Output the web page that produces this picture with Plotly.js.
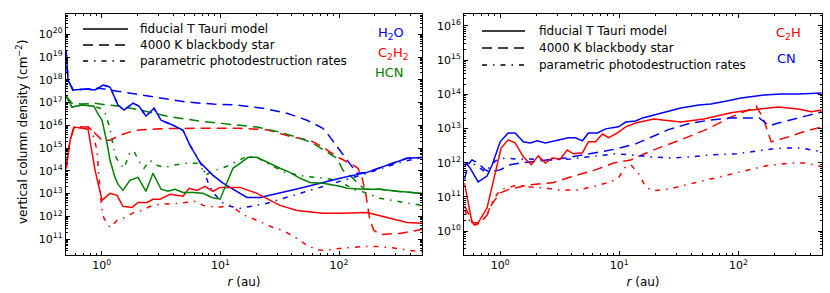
<!DOCTYPE html>
<html>
<head>
<meta charset="utf-8">
<script src="https://cdn.plot.ly/plotly-3.0.1.min.js"></script>
<style>html,body{margin:0;padding:0;background:#fff;}#chart{width:830px;height:293px;}</style>
</head>
<body>
<div id="chart"></div>
<script>
// ---- data: log10(r / au) and log10(N / cm^-2) ----
// Left panel: H2O
const h2o_fid_logR = [-0.30,-0.284,-0.242,-0.124,-0.056,0.011,0.070,0.137,0.188,0.264,0.314,0.373,0.441,0.500,0.601,0.685,0.744,0.828,0.938,1.013,1.081,1.224,1.334,1.671,2.008,2.235,2.572,2.70];
const h2o_fid_logN = [19.31,17.99,17.55,17.59,17.55,17.77,17.68,16.89,16.67,16.97,16.84,16.40,16.75,16.22,16.00,15.78,15.12,14.37,13.80,13.49,13.27,12.83,12.83,13.23,13.67,13.93,14.55,14.59];
const h2o_bb_logR = [-0.30,-0.284,-0.242,-0.124,-0.014,0.129,0.297,0.491,0.719,0.938,1.140,1.360,1.561,1.730,1.864,1.924,2.008,2.067,2.109,2.151,2.235,2.572,2.70];
const h2o_bb_logN = [19.31,17.99,17.55,17.59,17.63,17.50,17.37,17.19,17.02,16.93,16.89,16.75,16.53,16.22,15.87,15.48,14.90,14.46,14.15,13.89,13.93,14.55,14.59];
const h2o_par_logR = [-0.30,-0.284,-0.242,-0.124,-0.056,0.011,0.070,0.137,0.188,0.264,0.314,0.373,0.441,0.500,0.601,0.685,0.744,0.828,0.853,0.896,0.938,1.013,1.081,1.165,1.393,1.671,1.949,2.235,2.513,2.70];
const h2o_par_logN = [19.31,17.99,17.55,17.59,17.55,17.77,17.68,16.89,16.67,16.97,16.84,16.40,16.75,16.22,16.00,15.78,15.12,14.37,14.15,13.49,13.05,12.61,12.44,12.35,12.57,13.01,13.45,13.89,14.37,14.59];
// Left panel: C2H2
const c2h2_fid_logR = [-0.30,-0.267,-0.233,-0.115,-0.056,0.003,0.070,0.129,0.179,0.255,0.306,0.382,0.432,0.491,0.575,0.685,0.736,0.803,0.870,0.938,0.997,1.081,1.165,1.308,1.502,1.646,1.864,2.008,2.235,2.404,2.572,2.70];
const c2h2_fid_logN = [14.11,15.34,15.92,15.83,14.02,12.70,13.01,12.92,12.44,12.39,12.61,12.61,12.75,12.75,12.97,12.88,13.23,13.14,13.32,13.10,13.27,13.27,13.27,13.01,12.48,12.26,12.13,12.13,12.17,11.95,11.73,11.69];
const c2h2_bb_logR = [-0.30,-0.267,-0.233,-0.115,-0.056,0.003,0.070,0.154,0.281,0.491,0.828,1.165,1.393,1.612,1.755,1.864,1.924,2.008,2.092,2.160,2.193,2.227,2.260,2.294,2.345,2.513,2.70];
const c2h2_bb_logN = [14.11,15.34,15.92,15.92,15.65,15.34,15.34,15.56,15.78,15.85,15.87,15.87,15.80,15.48,15.34,15.04,14.82,14.55,14.33,14.11,13.71,12.92,11.82,11.38,11.20,11.25,11.42];
const c2h2_par_logR = [-0.30,-0.267,-0.233,-0.115,-0.082,-0.040,-0.014,0.003,0.019,0.070,0.129,0.196,0.272,0.340,0.407,0.491,0.634,0.744,0.803,0.853,0.971,1.081,1.207,1.308,1.444,1.527,1.646,1.730,1.814,1.864,2.008,2.202,2.345,2.488,2.597,2.70];
const c2h2_par_logN = [14.11,15.34,15.92,15.92,15.78,14.90,13.14,12.26,11.91,11.51,11.82,11.95,12.17,12.26,12.44,12.53,12.57,12.61,12.66,12.48,12.39,12.48,12.04,11.82,11.51,11.38,11.03,10.72,10.54,10.50,10.59,10.67,10.67,10.59,10.50,10.45];
// Left panel: HCN
const hcn_fid_logR = [-0.30,-0.250,-0.166,-0.065,-0.040,0.003,0.045,0.070,0.112,0.137,0.179,0.238,0.306,0.373,0.432,0.500,0.559,0.618,0.685,0.769,0.853,0.929,0.997,1.106,1.165,1.233,1.308,1.393,1.502,1.586,1.671,1.755,1.864,2.008,2.067,2.202,2.345,2.488,2.70];
const hcn_fid_logN = [17.28,16.80,16.89,16.84,16.58,16.22,15.21,14.46,13.71,13.41,13.14,13.58,13.71,13.10,13.89,13.19,13.10,13.19,13.05,13.05,13.01,12.83,12.75,14.11,14.33,14.59,14.59,14.37,14.11,13.93,13.67,13.49,13.45,13.32,13.23,13.19,13.19,13.10,13.01];
const hcn_bb_logR = [-0.30,-0.250,-0.166,-0.056,0.045,0.154,0.323,0.550,0.828,1.081,1.308,1.502,1.671,1.780,1.898,1.983,2.033,2.109,2.176,2.218,2.345,2.488,2.70];
const hcn_bb_logN = [17.28,16.97,16.93,16.97,16.89,16.84,16.67,16.40,16.18,16.05,15.92,15.70,15.43,15.21,14.82,14.55,14.02,13.71,13.36,13.19,13.19,13.10,13.01];
const hcn_par_logR = [-0.30,-0.250,-0.166,-0.065,-0.014,0.028,0.070,0.095,0.120,0.146,0.188,0.238,0.272,0.314,0.356,0.407,0.466,0.533,0.601,0.702,0.803,0.853,0.887,0.955,1.056,1.106,1.224,1.308,1.393,1.544,1.713,1.881,1.983,2.050,2.117,2.218,2.345,2.488,2.70];
const hcn_par_logN = [17.28,16.80,16.89,16.84,16.75,16.53,15.87,15.12,14.59,14.37,14.11,14.82,14.86,14.42,14.11,14.46,14.24,14.15,14.24,14.33,14.33,14.02,13.85,14.02,14.20,14.33,14.64,14.59,14.33,13.93,13.76,13.67,13.58,13.41,13.19,13.05,12.79,12.66,12.48];
// Right panel: C2H
const c2h_fid_logR = [-0.30,-0.236,-0.185,-0.110,-0.059,0.008,0.067,0.126,0.194,0.261,0.320,0.379,0.438,0.505,0.564,0.615,0.691,0.741,0.800,0.859,0.910,0.986,1.053,1.137,1.289,1.516,1.710,1.938,2.106,2.334,2.502,2.612,2.70];
const c2h_fid_logN = [11.41,10.24,10.24,10.68,11.44,12.43,12.67,12.58,12.17,11.94,12.20,11.99,12.14,12.11,12.37,12.26,12.29,12.61,12.61,12.84,12.73,12.87,13.05,13.16,13.28,13.19,13.28,13.46,13.54,13.63,13.57,13.49,13.54];
const c2h_bb_logR = [-0.30,-0.270,-0.219,-0.168,-0.110,-0.067,0,0.084,0.236,0.438,0.590,0.800,0.952,1.095,1.264,1.516,1.744,1.921,2.106,2.148,2.207,2.275,2.342,2.443,2.570,2.70];
const c2h_bb_logN = [10.74,10.53,10.18,10.24,10.47,10.80,11.12,11.23,11.35,11.41,11.58,11.79,11.99,12.08,12.34,12.67,12.99,13.31,13.57,13.66,13.31,12.61,12.67,12.78,12.93,13.05];
const c2h_par_logR = [-0.30,-0.253,-0.202,-0.143,-0.101,-0.059,0,0.067,0.143,0.253,0.379,0.505,0.657,0.800,0.927,0.994,1.045,1.095,1.154,1.222,1.281,1.415,1.601,1.811,2.022,2.233,2.443,2.570,2.70];
const c2h_par_logN = [10.62,10.27,10.18,10.33,10.56,10.91,11.20,11.26,11.35,11.29,11.26,11.20,11.20,11.32,11.44,11.56,11.85,11.94,11.73,11.29,11.18,11.23,11.38,11.56,11.73,11.91,11.99,11.99,11.88];
// Right panel: CN
const cn_fid_logR = [-0.30,-0.253,-0.185,-0.110,-0.067,0,0.067,0.126,0.194,0.253,0.312,0.379,0.463,0.573,0.632,0.691,0.741,0.817,0.885,0.994,1.053,1.137,1.196,1.323,1.516,1.668,1.769,1.912,2.022,2.216,2.359,2.502,2.70];
const cn_fid_logN = [12.02,11.85,11.44,11.61,11.94,12.61,12.87,12.87,12.61,12.58,12.64,12.58,12.64,12.73,12.73,12.64,12.87,12.87,12.99,13.05,13.19,13.22,13.31,13.43,13.60,13.69,13.72,13.81,13.89,13.98,14.01,14.01,14.04];
const cn_bb_logR = [-0.30,-0.270,-0.236,-0.185,-0.126,-0.084,0,0.084,0.168,0.337,0.548,0.800,0.969,1.137,1.264,1.407,1.601,1.769,1.938,2.064,2.174,2.207,2.258,2.334,2.443,2.570,2.70];
const cn_bb_logN = [11.50,11.94,12.08,11.99,11.79,11.73,11.79,11.94,11.99,12.05,12.14,12.29,12.40,12.55,12.75,12.96,13.16,13.25,13.31,13.31,13.31,13.22,13.08,13.16,13.25,13.37,13.49];
const cn_par_logR = [-0.30,-0.253,-0.185,-0.126,-0.084,-0.042,0.042,0.126,0.253,0.421,0.590,0.758,0.969,1.095,1.264,1.432,1.601,1.769,1.980,2.148,2.275,2.401,2.527,2.70];
const cn_par_logN = [11.91,12.02,11.88,11.73,11.88,12.05,12.14,12.11,12.11,12.08,12.11,12.17,12.26,12.23,12.17,12.14,12.17,12.23,12.26,12.34,12.40,12.43,12.43,12.32];

const legendLabels = ["fiducial T Tauri model", "4000 K blackbody star", "parametric photodestruction rates"];
const xTickExps = [0, 1, 2];
const yTickExpsLeft = [11,12,13,14,15,16,17,18,19,20];
const yTickExpsRight = [10,11,12,13,14,15,16];

// ---- styles ----
const BLUE = "#0000ff", RED = "#ff0000", GREEN = "#008000";
const DASH = "10px,6px", DASHDOT = "5px,6px,1.5px,6px";
const LW = 1.5;
const pw = a => a.map(v => Math.pow(10, v));

function tr(lr, ln, color, dash, xa, ya) {
  return {x: pw(lr), y: pw(ln), type: "scatter", mode: "lines", xaxis: xa, yaxis: ya,
    line: {color: color, width: LW, dash: dash}, showlegend: false, hoverinfo: "skip"};
}

const traces = [
  tr(h2o_bb_logR, h2o_bb_logN, BLUE, DASH, "x", "y"),
  tr(c2h2_bb_logR, c2h2_bb_logN, RED, DASH, "x", "y"),
  tr(hcn_bb_logR, hcn_bb_logN, GREEN, DASH, "x", "y"),
  tr(h2o_par_logR, h2o_par_logN, BLUE, DASHDOT, "x", "y"),
  tr(c2h2_par_logR, c2h2_par_logN, RED, DASHDOT, "x", "y"),
  tr(hcn_par_logR, hcn_par_logN, GREEN, DASHDOT, "x", "y"),
  tr(h2o_fid_logR, h2o_fid_logN, BLUE, "solid", "x", "y"),
  tr(c2h2_fid_logR, c2h2_fid_logN, RED, "solid", "x", "y"),
  tr(hcn_fid_logR, hcn_fid_logN, GREEN, "solid", "x", "y"),
  tr(c2h_bb_logR, c2h_bb_logN, RED, DASH, "x2", "y2"),
  tr(cn_bb_logR, cn_bb_logN, BLUE, DASH, "x2", "y2"),
  tr(c2h_par_logR, c2h_par_logN, RED, DASHDOT, "x2", "y2"),
  tr(cn_par_logR, cn_par_logN, BLUE, DASHDOT, "x2", "y2"),
  tr(c2h_fid_logR, c2h_fid_logN, RED, "solid", "x2", "y2"),
  tr(cn_fid_logR, cn_fid_logN, BLUE, "solid", "x2", "y2")
];

function minorVals(lo, hi) {
  const out = [];
  for (let d = Math.floor(lo); d <= Math.ceil(hi); d++)
    for (let k = 2; k <= 9; k++) out.push(k * Math.pow(10, d));
  return out;
}
const FONT = "DejaVu Sans, sans-serif";
function axis(exps, range, domain, anchor, extra) {
  return Object.assign({
    type: "log", range: range, domain: domain, anchor: anchor,
    tickmode: "array", tickvals: exps.map(e => Math.pow(10, e)),
    ticktext: exps.map(e => "10<sup>" + e + "</sup>"),
    ticks: "inside", ticklen: 4, tickwidth: 1, tickcolor: "#000",
    minor: {tickmode: "array", tickvals: minorVals(range[0], range[1]), ticks: "inside", ticklen: 2, tickwidth: 1, tickcolor: "#000", showgrid: false},
    showline: true, linecolor: "#000", linewidth: 1.2, mirror: "allticks",
    showgrid: false, zeroline: false,
    tickfont: {family: FONT, size: 11, color: "#000"}
  }, extra || {});
}
const W = 830, H = 293;
const xL = [66 / W, 422 / W], xR = [464.3 / W, 821.7 / W], yD = [(H - 255) / H, (H - 14) / H];
const xr = [Math.log10(0.5), Math.log10(500)];
const xt = {text: "<i>r</i> (au)", font: {family: FONT, size: 12, color: "#000"}, standoff: 6};

// legend key (line-style samples + labels), placed in figure pixels
const legendDashes = ["solid", DASH, DASHDOT];
const legendBoxes = [{x0: 83, x1: 128, tx: 138, rows: [29, 45, 61]}, {x0: 482, x1: 525, tx: 537, rows: [31, 48, 65]}];
const shapes = [], annotations = [];
legendBoxes.forEach(b => {
  b.rows.forEach((ry, i) => {
    shapes.push({type: "line", xref: "paper", yref: "paper", x0: b.x0 / W, x1: b.x1 / W, y0: 1 - ry / H, y1: 1 - ry / H,
      line: {color: "#000", width: LW, dash: legendDashes[i]}});
    annotations.push({text: legendLabels[i], xref: "paper", yref: "paper", x: b.tx / W, y: 1 - ry / H,
      xanchor: "left", yanchor: "middle", showarrow: false, font: {family: FONT, size: 12, color: "#000"}});
  });
});
[
  {text: "H<sub>2</sub>O", color: BLUE, x: 376, y: 33},
  {text: "C<sub>2</sub>H<sub>2</sub>", color: RED, x: 376, y: 54},
  {text: "HCN", color: GREEN, x: 373, y: 73},
  {text: "C<sub>2</sub>H", color: RED, x: 774, y: 33},
  {text: "CN", color: BLUE, x: 775, y: 58}
].forEach(a => annotations.push({text: a.text, x: a.x / W, y: 1 - a.y / H, xref: "paper", yref: "paper",
  xanchor: "left", yanchor: "middle", showarrow: false, font: {family: FONT, size: 13, color: a.color}}));
annotations.push({text: "vertical column density (cm<sup>\u22122</sup>)", textangle: -90, xref: "paper", yref: "paper",
  x: 22 / W, y: 1 - 132 / H, xanchor: "center", yanchor: "middle", showarrow: false,
  font: {family: FONT, size: 12, color: "#000"}});

const layout = {
  width: W, height: H, margin: {l: 0, r: 0, t: 0, b: 0},
  paper_bgcolor: "#fff", plot_bgcolor: "#fff", showlegend: false,
  font: {family: FONT, size: 11, color: "#000"},
  xaxis: axis(xTickExps, xr, xL, "y", {title: xt}),
  yaxis: axis(yTickExpsLeft, [10.3, 20.89], yD, "x"),
  xaxis2: axis(xTickExps, xr, xR, "y2", {title: xt}),
  yaxis2: axis(yTickExpsRight, [9.30, 16.35], yD, "x2"),
  shapes: shapes,
  annotations: annotations
};

Plotly.newPlot("chart", traces, layout, {staticPlot: true, displayModeBar: false});
</script>
</body>
</html>
